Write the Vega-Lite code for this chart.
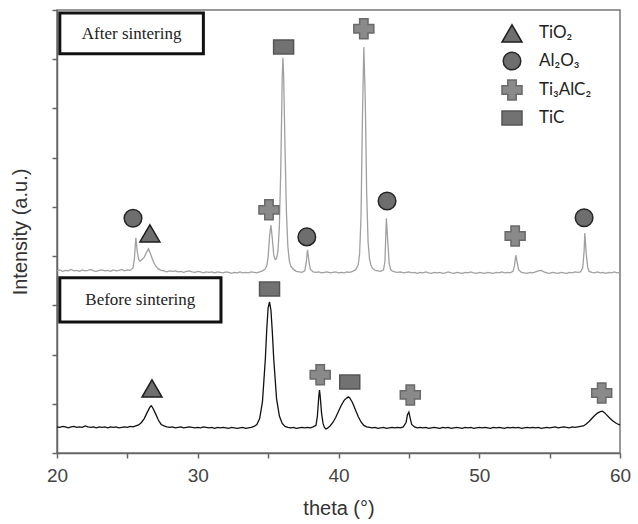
{
  "$schema": "https://vega.github.io/schema/vega-lite/v6.json",
  "width": 563,
  "height": 443,
  "autosize": "none",
  "padding": {"left": 57, "top": 10, "right": 18, "bottom": 71},
  "background": "white",
  "config": {
    "view": {"stroke": "#777", "strokeWidth": 1.5},
    "axis": {"grid": false, "domainColor": "#666", "domainWidth": 1.5, "tickColor": "#666", "tickWidth": 1.5, "tickSize": 5, "labelFont": "Liberation Sans", "labelFontSize": 19, "labelColor": "#444", "titleFont": "Liberation Sans", "titleFontSize": 20, "titleFontWeight": "normal", "titleColor": "#333"}
  },
  "datasets": {
    "after": [
      {"theta":20.0,"I":3.70},{"theta":20.2,"I":3.72},{"theta":20.4,"I":3.69},{"theta":20.6,"I":3.71},{"theta":20.8,"I":3.70},{"theta":21.0,"I":3.73},{"theta":21.2,"I":3.70},{"theta":21.4,"I":3.71},{"theta":21.6,"I":3.69},{"theta":21.8,"I":3.72},{"theta":22.0,"I":3.70},{"theta":22.2,"I":3.71},{"theta":22.4,"I":3.73},{"theta":22.6,"I":3.70},{"theta":22.8,"I":3.69},{"theta":23.0,"I":3.71},{"theta":23.2,"I":3.72},{"theta":23.4,"I":3.70},{"theta":23.6,"I":3.71},{"theta":23.8,"I":3.69},{"theta":24.0,"I":3.72},{"theta":24.2,"I":3.70},{"theta":24.4,"I":3.71},{"theta":24.6,"I":3.73},{"theta":24.8,"I":3.70},{"theta":25.0,"I":3.72},{"theta":25.2,"I":3.71},{"theta":25.4,"I":3.76},{"theta":25.5,"I":3.95},{"theta":25.6,"I":4.37},{"theta":25.7,"I":4.10},{"theta":25.8,"I":3.93},{"theta":25.9,"I":3.90},{"theta":26.0,"I":3.92},{"theta":26.2,"I":3.98},{"theta":26.4,"I":4.10},{"theta":26.5,"I":4.15},{"theta":26.6,"I":4.08},{"theta":26.8,"I":3.92},{"theta":27.0,"I":3.80},{"theta":27.2,"I":3.74},{"theta":27.4,"I":3.71},{"theta":27.6,"I":3.70},{"theta":27.8,"I":3.68},{"theta":28.0,"I":3.70},{"theta":28.2,"I":3.69},{"theta":28.4,"I":3.70},{"theta":28.6,"I":3.68},{"theta":28.8,"I":3.69},{"theta":29.0,"I":3.67},{"theta":29.2,"I":3.69},{"theta":29.4,"I":3.70},{"theta":29.6,"I":3.68},{"theta":29.8,"I":3.67},{"theta":30.0,"I":3.69},{"theta":30.2,"I":3.68},{"theta":30.4,"I":3.66},{"theta":30.6,"I":3.68},{"theta":30.8,"I":3.67},{"theta":31.0,"I":3.68},{"theta":31.2,"I":3.66},{"theta":31.4,"I":3.68},{"theta":31.6,"I":3.67},{"theta":31.8,"I":3.66},{"theta":32.0,"I":3.68},{"theta":32.2,"I":3.67},{"theta":32.4,"I":3.65},{"theta":32.6,"I":3.67},{"theta":32.8,"I":3.66},{"theta":33.0,"I":3.68},{"theta":33.2,"I":3.66},{"theta":33.4,"I":3.67},{"theta":33.6,"I":3.66},{"theta":33.8,"I":3.68},{"theta":34.0,"I":3.67},{"theta":34.2,"I":3.66},{"theta":34.4,"I":3.68},{"theta":34.6,"I":3.70},{"theta":34.8,"I":3.74},{"theta":34.9,"I":3.80},{"theta":35.0,"I":3.98},{"theta":35.1,"I":4.40},{"theta":35.2,"I":4.63},{"theta":35.3,"I":4.35},{"theta":35.4,"I":4.02},{"theta":35.5,"I":3.93},{"theta":35.6,"I":3.95},{"theta":35.7,"I":4.10},{"theta":35.8,"I":4.60},{"theta":35.9,"I":5.80},{"theta":36.0,"I":7.60},{"theta":36.05,"I":8.03},{"theta":36.1,"I":7.70},{"theta":36.2,"I":6.20},{"theta":36.3,"I":4.90},{"theta":36.4,"I":4.20},{"theta":36.5,"I":3.92},{"theta":36.6,"I":3.80},{"theta":36.8,"I":3.73},{"theta":37.0,"I":3.69},{"theta":37.2,"I":3.68},{"theta":37.4,"I":3.67},{"theta":37.6,"I":3.70},{"theta":37.7,"I":3.85},{"theta":37.8,"I":4.13},{"theta":37.9,"I":3.90},{"theta":38.0,"I":3.73},{"theta":38.2,"I":3.68},{"theta":38.4,"I":3.67},{"theta":38.6,"I":3.68},{"theta":38.8,"I":3.66},{"theta":39.0,"I":3.67},{"theta":39.2,"I":3.68},{"theta":39.4,"I":3.66},{"theta":39.6,"I":3.67},{"theta":39.8,"I":3.68},{"theta":40.0,"I":3.66},{"theta":40.2,"I":3.67},{"theta":40.4,"I":3.66},{"theta":40.6,"I":3.68},{"theta":40.8,"I":3.67},{"theta":41.0,"I":3.69},{"theta":41.2,"I":3.72},{"theta":41.4,"I":3.82},{"theta":41.5,"I":4.05},{"theta":41.6,"I":4.80},{"theta":41.7,"I":6.80},{"theta":41.8,"I":8.25},{"theta":41.9,"I":7.20},{"theta":42.0,"I":5.30},{"theta":42.1,"I":4.30},{"theta":42.2,"I":3.95},{"theta":42.3,"I":3.82},{"theta":42.4,"I":3.76},{"theta":42.6,"I":3.71},{"theta":42.8,"I":3.70},{"theta":43.0,"I":3.69},{"theta":43.2,"I":3.72},{"theta":43.3,"I":3.90},{"theta":43.4,"I":4.77},{"theta":43.5,"I":4.30},{"theta":43.6,"I":3.85},{"theta":43.7,"I":3.73},{"theta":43.8,"I":3.70},{"theta":44.0,"I":3.68},{"theta":44.2,"I":3.67},{"theta":44.4,"I":3.68},{"theta":44.6,"I":3.66},{"theta":44.8,"I":3.67},{"theta":45.0,"I":3.68},{"theta":45.2,"I":3.66},{"theta":45.4,"I":3.67},{"theta":45.6,"I":3.65},{"theta":45.8,"I":3.67},{"theta":46.0,"I":3.66},{"theta":46.2,"I":3.68},{"theta":46.4,"I":3.66},{"theta":46.6,"I":3.65},{"theta":46.8,"I":3.67},{"theta":47.0,"I":3.66},{"theta":47.2,"I":3.67},{"theta":47.4,"I":3.65},{"theta":47.6,"I":3.66},{"theta":47.8,"I":3.68},{"theta":48.0,"I":3.66},{"theta":48.2,"I":3.65},{"theta":48.4,"I":3.67},{"theta":48.6,"I":3.66},{"theta":48.8,"I":3.65},{"theta":49.0,"I":3.67},{"theta":49.2,"I":3.66},{"theta":49.4,"I":3.68},{"theta":49.6,"I":3.66},{"theta":49.8,"I":3.65},{"theta":50.0,"I":3.67},{"theta":50.2,"I":3.66},{"theta":50.4,"I":3.65},{"theta":50.6,"I":3.67},{"theta":50.8,"I":3.66},{"theta":51.0,"I":3.65},{"theta":51.2,"I":3.67},{"theta":51.4,"I":3.66},{"theta":51.6,"I":3.68},{"theta":51.8,"I":3.66},{"theta":52.0,"I":3.67},{"theta":52.2,"I":3.66},{"theta":52.4,"I":3.69},{"theta":52.5,"I":3.80},{"theta":52.6,"I":4.02},{"theta":52.7,"I":3.86},{"theta":52.8,"I":3.72},{"theta":53.0,"I":3.67},{"theta":53.2,"I":3.66},{"theta":53.4,"I":3.65},{"theta":53.6,"I":3.67},{"theta":53.8,"I":3.66},{"theta":54.0,"I":3.68},{"theta":54.2,"I":3.70},{"theta":54.4,"I":3.71},{"theta":54.6,"I":3.68},{"theta":54.8,"I":3.66},{"theta":55.0,"I":3.65},{"theta":55.2,"I":3.67},{"theta":55.4,"I":3.66},{"theta":55.6,"I":3.65},{"theta":55.8,"I":3.67},{"theta":56.0,"I":3.66},{"theta":56.2,"I":3.65},{"theta":56.4,"I":3.67},{"theta":56.6,"I":3.66},{"theta":56.8,"I":3.68},{"theta":57.0,"I":3.67},{"theta":57.2,"I":3.68},{"theta":57.35,"I":3.76},{"theta":57.45,"I":4.10},{"theta":57.5,"I":4.47},{"theta":57.6,"I":4.05},{"theta":57.7,"I":3.78},{"theta":57.8,"I":3.69},{"theta":58.0,"I":3.67},{"theta":58.2,"I":3.66},{"theta":58.4,"I":3.68},{"theta":58.6,"I":3.66},{"theta":58.8,"I":3.67},{"theta":59.0,"I":3.65},{"theta":59.2,"I":3.67},{"theta":59.4,"I":3.66},{"theta":59.6,"I":3.68},{"theta":59.8,"I":3.66},{"theta":60.0,"I":3.67}
    ],
    "before": [
      {"theta":20.0,"I":0.53},{"theta":20.2,"I":0.52},{"theta":20.4,"I":0.54},{"theta":20.6,"I":0.53},{"theta":20.8,"I":0.51},{"theta":21.0,"I":0.53},{"theta":21.2,"I":0.54},{"theta":21.4,"I":0.52},{"theta":21.6,"I":0.53},{"theta":21.8,"I":0.52},{"theta":22.0,"I":0.55},{"theta":22.2,"I":0.53},{"theta":22.4,"I":0.52},{"theta":22.6,"I":0.53},{"theta":22.8,"I":0.51},{"theta":23.0,"I":0.53},{"theta":23.2,"I":0.52},{"theta":23.4,"I":0.53},{"theta":23.6,"I":0.51},{"theta":23.8,"I":0.53},{"theta":24.0,"I":0.52},{"theta":24.2,"I":0.53},{"theta":24.4,"I":0.51},{"theta":24.6,"I":0.52},{"theta":24.8,"I":0.53},{"theta":25.0,"I":0.52},{"theta":25.2,"I":0.54},{"theta":25.4,"I":0.53},{"theta":25.6,"I":0.55},{"theta":25.8,"I":0.57},{"theta":26.0,"I":0.62},{"theta":26.2,"I":0.70},{"theta":26.4,"I":0.82},{"theta":26.6,"I":0.93},{"theta":26.7,"I":0.96},{"theta":26.8,"I":0.92},{"theta":27.0,"I":0.80},{"theta":27.2,"I":0.67},{"theta":27.4,"I":0.58},{"theta":27.6,"I":0.55},{"theta":27.8,"I":0.53},{"theta":28.0,"I":0.52},{"theta":28.2,"I":0.53},{"theta":28.4,"I":0.51},{"theta":28.6,"I":0.52},{"theta":28.8,"I":0.53},{"theta":29.0,"I":0.51},{"theta":29.2,"I":0.52},{"theta":29.4,"I":0.53},{"theta":29.6,"I":0.52},{"theta":29.8,"I":0.51},{"theta":30.0,"I":0.52},{"theta":30.2,"I":0.51},{"theta":30.4,"I":0.53},{"theta":30.6,"I":0.52},{"theta":30.8,"I":0.51},{"theta":31.0,"I":0.52},{"theta":31.2,"I":0.50},{"theta":31.4,"I":0.52},{"theta":31.6,"I":0.51},{"theta":31.8,"I":0.52},{"theta":32.0,"I":0.51},{"theta":32.2,"I":0.50},{"theta":32.4,"I":0.52},{"theta":32.6,"I":0.51},{"theta":32.8,"I":0.50},{"theta":33.0,"I":0.51},{"theta":33.2,"I":0.52},{"theta":33.4,"I":0.50},{"theta":33.6,"I":0.51},{"theta":33.8,"I":0.52},{"theta":34.0,"I":0.54},{"theta":34.2,"I":0.58},{"theta":34.4,"I":0.70},{"theta":34.6,"I":1.05},{"theta":34.8,"I":1.90},{"theta":34.9,"I":2.50},{"theta":35.0,"I":2.95},{"theta":35.1,"I":3.07},{"theta":35.2,"I":2.90},{"theta":35.3,"I":2.45},{"theta":35.4,"I":1.90},{"theta":35.6,"I":1.10},{"theta":35.8,"I":0.75},{"theta":36.0,"I":0.60},{"theta":36.2,"I":0.54},{"theta":36.4,"I":0.52},{"theta":36.6,"I":0.51},{"theta":36.8,"I":0.52},{"theta":37.0,"I":0.50},{"theta":37.2,"I":0.51},{"theta":37.4,"I":0.52},{"theta":37.6,"I":0.51},{"theta":37.8,"I":0.52},{"theta":38.0,"I":0.51},{"theta":38.2,"I":0.53},{"theta":38.4,"I":0.56},{"theta":38.5,"I":0.75},{"theta":38.6,"I":1.15},{"theta":38.65,"I":1.28},{"theta":38.7,"I":1.15},{"theta":38.8,"I":0.80},{"theta":38.9,"I":0.60},{"theta":39.0,"I":0.52},{"theta":39.1,"I":0.49},{"theta":39.2,"I":0.50},{"theta":39.4,"I":0.55},{"theta":39.6,"I":0.62},{"theta":39.8,"I":0.72},{"theta":40.0,"I":0.85},{"theta":40.2,"I":0.97},{"theta":40.4,"I":1.07},{"theta":40.6,"I":1.12},{"theta":40.7,"I":1.14},{"theta":40.8,"I":1.12},{"theta":41.0,"I":1.02},{"theta":41.2,"I":0.88},{"theta":41.4,"I":0.74},{"theta":41.6,"I":0.63},{"theta":41.8,"I":0.56},{"theta":42.0,"I":0.53},{"theta":42.2,"I":0.52},{"theta":42.4,"I":0.51},{"theta":42.6,"I":0.52},{"theta":42.8,"I":0.50},{"theta":43.0,"I":0.51},{"theta":43.2,"I":0.52},{"theta":43.4,"I":0.50},{"theta":43.6,"I":0.51},{"theta":43.8,"I":0.52},{"theta":44.0,"I":0.51},{"theta":44.2,"I":0.52},{"theta":44.4,"I":0.51},{"theta":44.6,"I":0.53},{"theta":44.8,"I":0.62},{"theta":44.9,"I":0.78},{"theta":45.0,"I":0.83},{"theta":45.1,"I":0.70},{"theta":45.2,"I":0.58},{"theta":45.4,"I":0.53},{"theta":45.6,"I":0.51},{"theta":45.8,"I":0.52},{"theta":46.0,"I":0.51},{"theta":46.2,"I":0.52},{"theta":46.4,"I":0.50},{"theta":46.6,"I":0.51},{"theta":46.8,"I":0.52},{"theta":47.0,"I":0.51},{"theta":47.2,"I":0.50},{"theta":47.4,"I":0.52},{"theta":47.6,"I":0.51},{"theta":47.8,"I":0.52},{"theta":48.0,"I":0.50},{"theta":48.2,"I":0.51},{"theta":48.4,"I":0.52},{"theta":48.6,"I":0.51},{"theta":48.8,"I":0.50},{"theta":49.0,"I":0.52},{"theta":49.2,"I":0.51},{"theta":49.4,"I":0.52},{"theta":49.6,"I":0.50},{"theta":49.8,"I":0.51},{"theta":50.0,"I":0.52},{"theta":50.2,"I":0.51},{"theta":50.4,"I":0.52},{"theta":50.6,"I":0.51},{"theta":50.8,"I":0.50},{"theta":51.0,"I":0.52},{"theta":51.2,"I":0.51},{"theta":51.4,"I":0.52},{"theta":51.6,"I":0.51},{"theta":51.8,"I":0.50},{"theta":52.0,"I":0.52},{"theta":52.2,"I":0.51},{"theta":52.4,"I":0.52},{"theta":52.6,"I":0.51},{"theta":52.8,"I":0.52},{"theta":53.0,"I":0.50},{"theta":53.2,"I":0.51},{"theta":53.4,"I":0.52},{"theta":53.6,"I":0.51},{"theta":53.8,"I":0.52},{"theta":54.0,"I":0.51},{"theta":54.2,"I":0.52},{"theta":54.4,"I":0.50},{"theta":54.6,"I":0.51},{"theta":54.8,"I":0.52},{"theta":55.0,"I":0.51},{"theta":55.2,"I":0.52},{"theta":55.4,"I":0.53},{"theta":55.6,"I":0.51},{"theta":55.8,"I":0.52},{"theta":56.0,"I":0.53},{"theta":56.2,"I":0.52},{"theta":56.4,"I":0.51},{"theta":56.6,"I":0.53},{"theta":56.8,"I":0.52},{"theta":57.0,"I":0.53},{"theta":57.2,"I":0.54},{"theta":57.4,"I":0.55},{"theta":57.6,"I":0.59},{"theta":57.8,"I":0.64},{"theta":58.0,"I":0.70},{"theta":58.2,"I":0.76},{"theta":58.4,"I":0.81},{"theta":58.6,"I":0.84},{"theta":58.75,"I":0.85},{"theta":58.9,"I":0.82},{"theta":59.1,"I":0.76},{"theta":59.3,"I":0.70},{"theta":59.5,"I":0.65},{"theta":59.7,"I":0.61},{"theta":59.9,"I":0.58},{"theta":60.0,"I":0.57}
    ],
    "markers": [
      {"theta":25.4,"v":4.77,"phase":"Al₂O₃"},
      {"theta":26.6,"v":4.47,"phase":"TiO₂"},
      {"theta":35.06,"v":4.94,"phase":"Ti₃AlC₂"},
      {"theta":36.1,"v":8.25,"phase":"TiC"},
      {"theta":37.75,"v":4.39,"phase":"Al₂O₃"},
      {"theta":41.8,"v":8.62,"phase":"Ti₃AlC₂"},
      {"theta":43.45,"v":5.12,"phase":"Al₂O₃"},
      {"theta":52.55,"v":4.41,"phase":"Ti₃AlC₂"},
      {"theta":57.45,"v":4.78,"phase":"Al₂O₃"},
      {"theta":26.75,"v":1.32,"phase":"TiO₂"},
      {"theta":35.1,"v":3.33,"phase":"TiC"},
      {"theta":38.7,"v":1.59,"phase":"Ti₃AlC₂"},
      {"theta":40.8,"v":1.44,"phase":"TiC"},
      {"theta":45.1,"v":1.18,"phase":"Ti₃AlC₂"},
      {"theta":58.7,"v":1.22,"phase":"Ti₃AlC₂"}
    ],
    "boxes": [
      {"x1":20.2,"x2":30.4,"y1":8.94,"y2":8.11,"tx":25.3,"ty":8.52,"label":"After sintering"},
      {"x1":20.2,"x2":31.65,"y1":3.56,"y2":2.66,"tx":25.92,"ty":3.1,"label":"Before sintering"}
    ]
  },
  "layer": [
    {
      "data": {"name": "after"},
      "mark": {"type": "line", "color": "#a0a0a0", "strokeWidth": 1.3},
      "encoding": {
        "x": {"field": "theta", "type": "quantitative", "scale": {"domain": [20, 60], "nice": false, "zero": false},
              "axis": {"title": "theta (°)", "values": [20,25,30,35,40,45,50,55,60], "labelExpr": "datum.value % 10 == 0 ? datum.label : ''", "labelFlush": false, "labelPadding": 8, "titlePadding": 13}},
        "y": {"field": "I", "type": "quantitative", "scale": {"domain": [0, 9], "nice": false, "zero": false},
              "axis": {"title": "Intensity (a.u.)", "values": [0,1,2,3,4,5,6,7,8,9], "labels": false, "titlePadding": 21}}
      }
    },
    {
      "data": {"name": "before"},
      "mark": {"type": "line", "color": "#111", "strokeWidth": 1.3},
      "encoding": {
        "x": {"field": "theta", "type": "quantitative"},
        "y": {"field": "I", "type": "quantitative"}
      }
    },
    {
      "data": {"name": "boxes"},
      "mark": {"type": "rect", "fill": "white", "stroke": "#111", "strokeWidth": 3},
      "encoding": {
        "x": {"field": "x1", "type": "quantitative"},
        "x2": {"field": "x2"},
        "y": {"field": "y1", "type": "quantitative"},
        "y2": {"field": "y2"}
      }
    },
    {
      "data": {"name": "boxes"},
      "mark": {"type": "text", "font": "Liberation Serif", "fontSize": 17, "color": "#222", "align": "center", "baseline": "middle"},
      "encoding": {
        "x": {"field": "tx", "type": "quantitative"},
        "y": {"field": "ty", "type": "quantitative"},
        "text": {"field": "label"}
      }
    },
    {
      "data": {"name": "markers"},
      "mark": {"type": "point", "filled": true, "size": 400, "opacity": 1, "strokeWidth": 1.5},
      "encoding": {
        "x": {"field": "theta", "type": "quantitative"},
        "y": {"field": "v", "type": "quantitative"},
        "shape": {"field": "phase", "type": "nominal",
          "scale": {"domain": ["TiO₂","Al₂O₃","Ti₃AlC₂","TiC"],
                    "range": ["M0,-0.82L1,0.9L-1,0.9Z", "M-0.88,0A0.88,0.88,0,1,0,0.88,0A0.88,0.88,0,1,0,-0.88,0Z", "M-0.42,-1H0.42V-0.42H1V0.42H0.42V1H-0.42V0.42H-1V-0.42H-0.42Z", "M-1,-0.7H1V0.7H-1Z"]},
          "legend": {"title": null, "orient": "none", "legendX": 444, "legendY": 12, "padding": 0, "symbolSize": 400, "rowPadding": 4, "labelOffset": 16, "labelFont": "Lato", "labelFontSize": 17, "labelColor": "#222", "symbolStrokeWidth": 1.5}},
        "fill": {"field": "phase", "type": "nominal",
          "scale": {"domain": ["TiO₂","Al₂O₃","Ti₃AlC₂","TiC"], "range": ["#6f6f6f","#6e6e6e","#8a8a8a","#727272"]},
          "legend": {"title": null, "orient": "none", "legendX": 444, "legendY": 12, "padding": 0, "symbolSize": 400, "rowPadding": 4, "labelOffset": 16, "labelFont": "Lato", "labelFontSize": 17, "labelColor": "#222", "symbolStrokeWidth": 1.5}},
        "stroke": {"field": "phase", "type": "nominal",
          "scale": {"domain": ["TiO₂","Al₂O₃","Ti₃AlC₂","TiC"], "range": ["#1e1e1e","#262626","#6a6a6a","#555555"]},
          "legend": {"title": null, "orient": "none", "legendX": 444, "legendY": 12, "padding": 0, "symbolSize": 400, "rowPadding": 4, "labelOffset": 16, "labelFont": "Lato", "labelFontSize": 17, "labelColor": "#222", "symbolStrokeWidth": 1.5}}
      }
    }
  ]
}
